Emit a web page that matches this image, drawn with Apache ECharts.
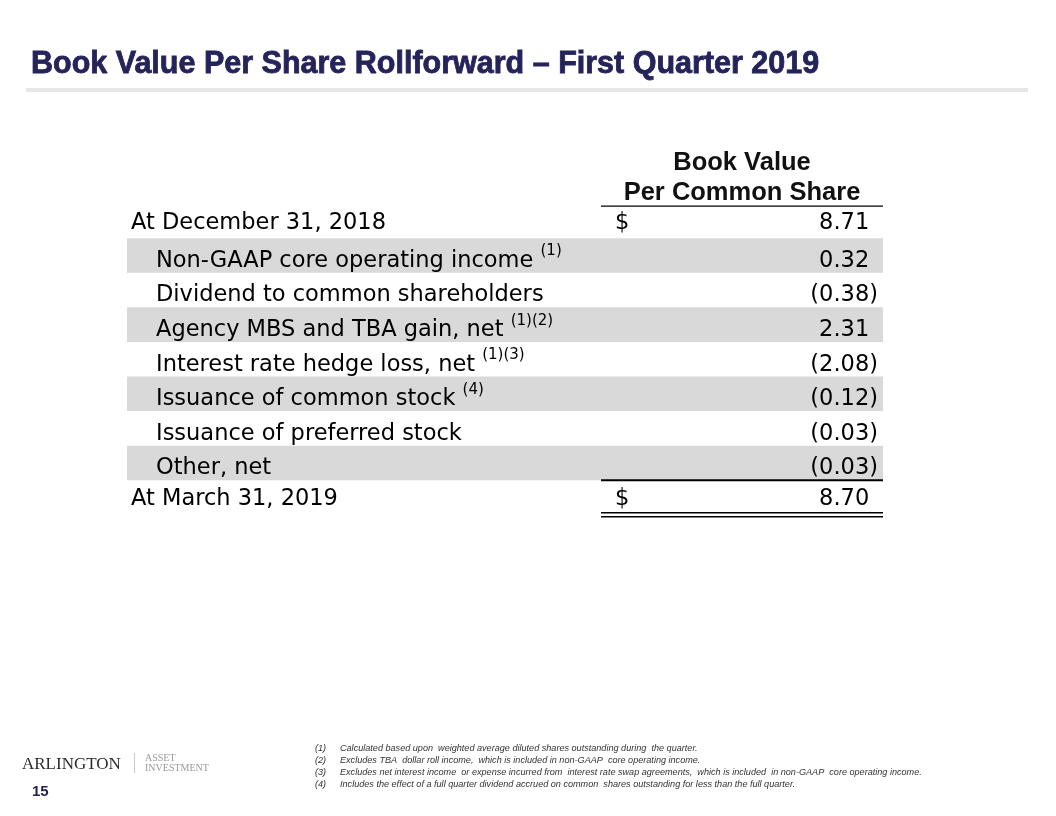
<!DOCTYPE html>
<html><head><meta charset="utf-8">
<script src="https://cdn.jsdelivr.net/npm/echarts@6/dist/echarts.min.js"></script>
<style>html,body{margin:0;padding:0;background:#fff}#c{width:1056px;height:816px}</style>
</head><body><div id="c"></div>
<script>
// ---- data ----
const rowLabels = [
  'At December 31, 2018',
  'Non-GAAP core operating income',
  'Dividend to common shareholders',
  'Agency MBS and TBA gain, net',
  'Interest rate hedge loss, net',
  'Issuance of common stock',
  'Issuance of preferred stock',
  'Other, net',
  'At March 31, 2019'
];
const rowNotes = ['', '(1)', '', '(1)(2)', '(1)(3)', '(4)', '', '', ''];
const rowValues = [8.71, 0.32, -0.38, 2.31, -2.08, -0.12, -0.03, -0.03, 8.70];
const rowIsTotal = [true, false, false, false, false, false, false, false, true];
const columnHeader = ['Book Value', 'Per Common Share'];
const footnoteMarks = ['(1)', '(2)', '(3)', '(4)'];
const footnoteTexts = [
  'Calculated based upon  weighted average diluted shares outstanding during  the quarter.',
  'Excludes TBA  dollar roll income,  which is included in non-GAAP  core operating income.',
  'Excludes net interest income  or expense incurred from  interest rate swap agreements,  which is included  in non-GAAP  core operating income.',
  'Includes the effect of a full quarter dividend accrued on common  shares outstanding for less than the full quarter.'
];
const titleText = 'Book Value Per Share Rollforward \u2013 First Quarter 2019';
const pageNumber = '15';

// ---- layout (x in axis units 0..1056) ----
const BODY_FONT = '"DejaVu Sans", sans-serif';
const X_BAND_L = 127, X_BAND_R = 883, X_COL_L = 601;
const X_TOTAL_LABEL = 131, X_ITEM_LABEL = 156, X_DOLLAR = 615, X_VALUE_R = 878;

function fmt(v) {
  const s = Math.abs(v).toFixed(2);
  return v < 0 ? '{v|(' + s + ')}' : '{v|' + s + '}{h|)}';
}

function renderItem(params, api) {
  const i = api.value(0);
  const v = rowValues[i];
  const yc = api.coord([0, i])[1];
  const h = api.size([0, 1])[1];
  const top = yc - h / 2, bot = yc + h / 2;
  const xL = api.coord([X_BAND_L, i])[0], xR = api.coord([X_BAND_R, i])[0];
  const xC = api.coord([X_COL_L, i])[0];
  const total = rowIsTotal[i];
  const children = [];
  if (!total && i % 2 === 1) {
    children.push({type: 'rect', shape: {x: xL, y: top, width: xR - xL, height: h}, style: {fill: '#d9d9d9'}});
  }
  const ty = yc + (total ? 2 : 5.5);
  const lbl = '{m|' + rowLabels[i] + (rowNotes[i] ? ' ' : '') + '}' + (rowNotes[i] ? '{s|' + rowNotes[i] + '}' : '');
  children.push({type: 'text', style: {
    x: api.coord([total ? X_TOTAL_LABEL : X_ITEM_LABEL, i])[0], y: ty,
    text: lbl, align: 'left', verticalAlign: 'middle',
    rich: {
      m: {fontFamily: BODY_FONT, fontSize: 22.5, lineHeight: 34, fill: '#000'},
      s: {fontFamily: BODY_FONT, fontSize: 15, fill: '#000', verticalAlign: 'top'}
    }
  }});
  if (total) {
    children.push({type: 'text', style: {
      x: api.coord([X_DOLLAR, i])[0], y: ty, text: '$', align: 'left', verticalAlign: 'middle',
      fontFamily: BODY_FONT, fontSize: 22.5, fill: '#000'
    }});
  }
  children.push({type: 'text', style: {
    x: api.coord([X_VALUE_R, i])[0], y: ty, text: fmt(v), align: 'right', verticalAlign: 'middle',
    rich: {
      v: {fontFamily: BODY_FONT, fontSize: 22.5, fill: '#000'},
      h: {fontFamily: BODY_FONT, fontSize: 22.5, fill: 'rgba(0,0,0,0)'}
    }
  }});
  if (i === 0) {
    children.push({type: 'line', shape: {x1: xC, y1: top + 2.5, x2: xR, y2: top + 2.5}, style: {stroke: '#000', lineWidth: 1.3}});
    const xm = api.coord([(X_COL_L + X_BAND_R) / 2, i])[0];
    children.push({type: 'text', style: {x: xm, y: top - 41, text: columnHeader[0], align: 'center', verticalAlign: 'middle',
      fontFamily: '"Liberation Sans", Arial, sans-serif', fontWeight: 'bold', fontSize: 25.5, fill: '#111'}});
    children.push({type: 'text', style: {x: xm, y: top - 11, text: columnHeader[1], align: 'center', verticalAlign: 'middle',
      fontFamily: '"Liberation Sans", Arial, sans-serif', fontWeight: 'bold', fontSize: 25.5, fill: '#111'}});
  }
  if (i === rowLabels.length - 1) {
    children.push({type: 'line', shape: {x1: xC, y1: top, x2: xR, y2: top}, style: {stroke: '#000', lineWidth: 2}});
    children.push({type: 'line', shape: {x1: xC, y1: bot - 2, x2: xR, y2: bot - 2}, style: {stroke: '#000', lineWidth: 1.5}});
    children.push({type: 'line', shape: {x1: xC, y1: bot + 2, x2: xR, y2: bot + 2}, style: {stroke: '#000', lineWidth: 1.5}});
  }
  return {type: 'group', children};
}

const FOOT_FONT = 'italic 9.1px "Liberation Sans", Arial, sans-serif';
const graphics = [
  {type: 'rect', left: 26, top: 88, shape: {width: 1002, height: 4}, style: {fill: '#e6e6e6'}, silent: true},
  {type: 'text', left: 22, top: 756, style: {text: 'ARLINGTON', font: '17px "Liberation Serif", serif', fill: '#2b2b2b'}},
  {type: 'rect', left: 134, top: 753, shape: {width: 1, height: 20}, style: {fill: '#c8c8c8'}},
  {type: 'text', left: 145, top: 753, style: {text: 'ASSET', font: '10px "Liberation Serif", serif', fill: '#9a9a9a'}},
  {type: 'text', left: 145, top: 763, style: {text: 'INVESTMENT', font: '10px "Liberation Serif", serif', fill: '#9a9a9a'}},
  {type: 'text', left: 32, top: 784, style: {text: pageNumber, font: 'bold 15px "Liberation Sans", Arial, sans-serif', fill: '#232354'}}
];
footnoteMarks.forEach((m, k) => {
  graphics.push({type: 'text', left: 315, top: 744 + 12 * k, style: {text: m, font: FOOT_FONT, fill: '#333'}});
  graphics.push({type: 'text', left: 340, top: 744 + 12 * k, style: {text: footnoteTexts[k], font: FOOT_FONT, fill: '#333'}});
});

const chart = echarts.init(document.getElementById('c'), null, {renderer: 'canvas'});
chart.setOption({
  animation: false,
  backgroundColor: '#fff',
  title: {
    text: titleText, left: 26, top: 44,
    textStyle: {fontFamily: '"Liberation Sans", Arial, sans-serif', fontWeight: 'bold', fontSize: 30.5, color: '#24245a',
      textBorderColor: '#24245a', textBorderWidth: 0.8}
  },
  grid: {left: 0, right: 0, top: 203.6, bottom: 301.2},
  xAxis: {type: 'value', min: 0, max: 1056, show: false},
  yAxis: {type: 'category', data: rowLabels, inverse: true, show: false},
  series: [{
    type: 'custom', clip: false, renderItem,
    encode: {y: 0, x: 1},
    data: rowValues.map((v, i) => [i, v])
  }],
  graphic: graphics
});
</script></body></html>
